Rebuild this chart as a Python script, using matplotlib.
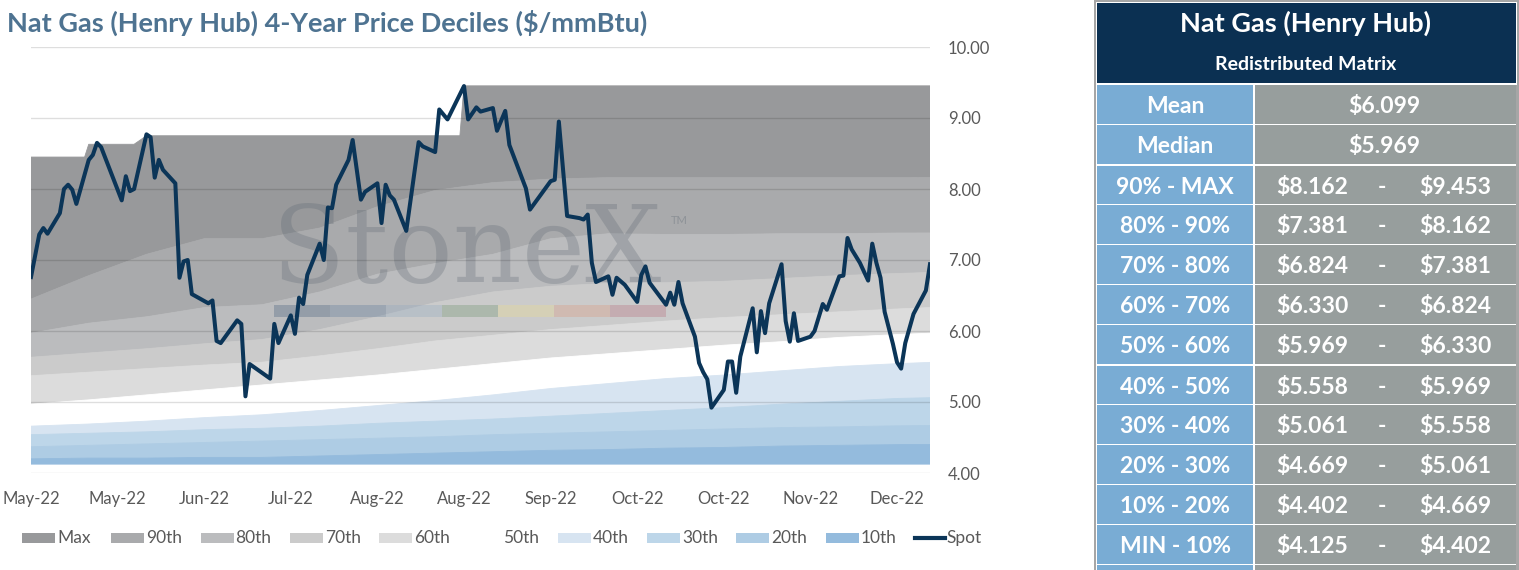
import numpy as np
import matplotlib.pyplot as plt
from matplotlib.patches import Rectangle
from matplotlib.lines import Line2D

plt.rcParams['font.family'] = ['Lato', 'DejaVu Sans']

W, H = 1519, 570

# ---- data (days counted from 10 May 2022) ----
spot_day = [0, 2, 3, 4, 7, 8, 9, 10, 11, 14,
            15, 16, 17, 22, 23, 24, 25, 28, 29, 30,
            31, 32, 35, 36, 37, 38, 39, 43, 44, 45,
            46, 50, 51, 52, 53, 58, 59, 60, 63, 64,
            65, 66, 67, 70, 71, 72, 73, 74, 77, 78,
            80, 81, 84, 85, 86, 87, 88, 91, 92, 94,
            95, 98, 99, 101, 105, 106, 108, 109, 112, 113,
            115, 116, 120, 121, 126, 127, 128, 130, 133, 134,
            135, 136, 137, 140, 141, 142, 144, 147, 148, 149,
            150, 154, 155, 156, 157, 158, 161, 162, 163, 164,
            165, 168, 169, 170, 171, 172, 175, 176, 177, 178,
            179, 182, 183, 184, 185, 186, 189, 190, 192, 193,
            196, 197, 198, 199, 201, 203, 204, 205, 206, 207,
            209, 210, 211, 212, 214, 217, 218]
spot = [6.76, 7.36, 7.45, 7.37, 7.66, 8.00, 8.06, 7.99, 7.79, 8.41,
        8.48, 8.65, 8.59, 7.84, 8.18, 7.97, 8.00, 8.77, 8.73, 8.16,
        8.41, 8.27, 8.08, 6.75, 6.98, 7.00, 6.52, 6.39, 6.43, 5.86,
        5.83, 6.15, 6.10, 5.08, 5.535, 5.33, 6.10, 5.83, 6.22, 5.96,
        6.47, 6.38, 6.79, 7.23, 7.00, 7.74, 7.73, 8.06, 8.41, 8.69,
        7.85, 7.96, 8.08, 7.52, 8.06, 7.91, 7.85, 7.41, 7.83, 8.66,
        8.60, 8.52, 9.12, 8.98, 9.45, 8.98, 9.15, 9.09, 9.14, 8.82,
        9.10, 8.62, 8.01, 7.71, 8.11, 8.13, 8.95, 7.62, 7.59, 7.57,
        7.64, 6.96, 6.69, 6.77, 6.51, 6.75, 6.65, 6.41, 6.79, 6.91,
        6.68, 6.37, 6.54, 6.37, 6.69, 6.39, 5.92, 5.55, 5.42, 5.32,
        4.92, 5.17, 5.57, 5.57, 5.13, 5.64, 6.32, 5.70, 6.28, 5.97,
        6.39, 6.94, 6.14, 5.85, 6.25, 5.86, 5.92, 6.00, 6.38, 6.30,
        6.77, 6.78, 7.31, 7.15, 6.96, 6.71, 7.23, 6.96, 6.75, 6.27,
        5.82, 5.56, 5.47, 5.83, 6.24, 6.57, 6.94]

max_day = [0, 13, 14, 25, 28, 104, 105, 218]
max_val = [8.45, 8.45, 8.63, 8.63, 8.75, 8.75, 9.453, 9.453]

band_day = [0, 14, 28, 42, 56, 70, 84, 98, 112, 126, 140, 154, 168, 182, 196, 210, 218]
p90 = [6.45, 6.78, 7.08, 7.30, 7.30, 7.45, 7.75, 7.98, 8.09, 8.14, 8.16, 8.16, 8.16, 8.16, 8.16, 8.16, 8.162]
p80 = [5.97, 6.11, 6.20, 6.33, 6.37, 6.55, 6.80, 6.95, 7.08, 7.30, 7.37, 7.36, 7.36, 7.37, 7.37, 7.38, 7.381]
p70 = [5.63, 5.69, 5.75, 5.82, 5.88, 6.02, 6.20, 6.40, 6.55, 6.63, 6.67, 6.68, 6.70, 6.74, 6.78, 6.81, 6.824]
p60 = [5.37, 5.42, 5.47, 5.52, 5.56, 5.65, 5.75, 5.86, 5.94, 6.02, 6.08, 6.14, 6.19, 6.23, 6.27, 6.31, 6.330]
p50 = [4.97, 5.03, 5.10, 5.17, 5.24, 5.31, 5.38, 5.46, 5.54, 5.62, 5.68, 5.74, 5.80, 5.85, 5.91, 5.95, 5.969]
p40 = [4.66, 4.69, 4.73, 4.78, 4.82, 4.88, 4.95, 5.02, 5.10, 5.19, 5.26, 5.33, 5.38, 5.44, 5.50, 5.54, 5.558]
p30 = [4.54, 4.56, 4.58, 4.61, 4.63, 4.66, 4.70, 4.73, 4.76, 4.80, 4.84, 4.88, 4.92, 4.97, 5.01, 5.05, 5.061]
p20 = [4.37, 4.39, 4.41, 4.43, 4.45, 4.47, 4.49, 4.51, 4.54, 4.56, 4.58, 4.60, 4.62, 4.64, 4.65, 4.665, 4.669]
p10 = [4.20, 4.21, 4.21, 4.22, 4.22, 4.24, 4.26, 4.28, 4.30, 4.32, 4.33, 4.35, 4.36, 4.38, 4.39, 4.40, 4.402]
p_min = 4.125

tick_days = [0, 21, 42, 63, 84, 105, 126, 147, 168, 189, 210]
tick_labels = ['May-22', 'May-22', 'Jun-22', 'Jul-22', 'Aug-22', 'Aug-22',
               'Sep-22', 'Oct-22', 'Oct-22', 'Nov-22', 'Dec-22']

legend_names = ['Max', '90th', '80th', '70th', '60th', '50th', '40th', '30th', '20th', '10th']
band_colors = ['#98999b', '#a9aaac', '#bbbcbe', '#cbcbcb', '#dcdcdc', '#ffffff',
               '#d7e4f1', '#bdd6e9', '#aecce4', '#94bbdd']

table_labels = ['90% - MAX', '80% - 90%', '70% - 80%', '60% - 70%', '50% - 60%',
                '40% - 50%', '30% - 40%', '20% - 30%', '10% - 20%', 'MIN - 10%']
table_lo = ['$8.162', '$7.381', '$6.824', '$6.330', '$5.969',
            '$5.558', '$5.061', '$4.669', '$4.402', '$4.125']
table_hi = ['$9.453', '$8.162', '$7.381', '$6.824', '$6.330',
            '$5.969', '$5.558', '$5.061', '$4.669', '$4.402']
mean_txt = '$6.099'
median_txt = '$5.969'

spot_color = '#0b3558'
navy = '#0b3052'
blue_cell = '#79acd4'
gray_cell = '#979e9d'


def fx(x):
    return x / W


def fy(y):
    return 1 - y / H


fig = plt.figure(figsize=(W / 100, H / 100), dpi=100)
ax = fig.add_axes([fx(31), fy(473), (930 - 31) / W, (473 - 47) / H])

# ---- decile bands ----
lower_list = [p90, p80, p70, p60, p50, p40, p30, p20, p10, [p_min] * len(band_day)]
upper_list = [None, p90, p80, p70, p60, p50, p40, p30, p20, p10]
for k in range(10):
    lo = np.array(lower_list[k])
    if upper_list[k] is None:
        xs = np.r_[max_day, band_day[::-1]]
        ys = np.r_[max_val, lo[::-1]]
    else:
        xs = np.r_[band_day, band_day[::-1]]
        ys = np.r_[upper_list[k], lo[::-1]]
    ax.fill(xs, ys, facecolor=band_colors[k], edgecolor=band_colors[k], lw=0.6, zorder=1)

# ---- watermark ----
ax.text(fx(272), fy(282), 'StoneX', transform=fig.transFigure, family='DejaVu Serif',
        fontsize=77, color='#5a6570', alpha=0.28, ha='left', va='baseline', zorder=2)
ax.text(fx(671), fy(224), 'TM', transform=fig.transFigure, fontsize=8,
        color='#5a6570', alpha=0.35, ha='left', va='baseline', zorder=2)
strip_colors = ['#2f4f6f', '#4d6f93', '#8aa4bf', '#5f8a5f', '#f0e080', '#e08f6e', '#b45d6e']
for i, c in enumerate(strip_colors):
    ax.add_patch(Rectangle((fx(274 + 56 * i), fy(317)), 56 / W, 12 / H,
                           transform=fig.transFigure, facecolor=c, edgecolor='none',
                           alpha=0.28, zorder=2))

ax.plot(spot_day, spot, color=spot_color, lw=2.9, solid_joinstyle='round', zorder=3)

ax.set_xlim(0, 218)
ax.set_ylim(4, 10)
ax.set_yticks(np.arange(4, 10.5, 1.0))
ax.set_yticklabels(['%.2f' % v for v in np.arange(4, 10.5, 1.0)])
ax.yaxis.tick_right()
ax.set_xticks(tick_days)
ax.set_xticklabels(tick_labels)
ax.tick_params(axis='y', length=0, pad=13, labelsize=12, labelcolor='#595959')
ax.tick_params(axis='x', length=0, pad=13, labelsize=12, labelcolor='#595959')
ax.set_axisbelow(False)
ax.yaxis.grid(True, color='black', alpha=0.13, lw=1.0)
for s in ax.spines.values():
    s.set_visible(False)
ax.patch.set_alpha(0)

# ---- overlay in pixel coordinates ----
ov = fig.add_axes([0, 0, 1, 1], zorder=5)
ov.set_xlim(0, W)
ov.set_ylim(H, 0)
ov.axis('off')
ov.patch.set_alpha(0)

ov.text(7, 23, 'Nat Gas (Henry Hub) 4-Year Price Deciles ($/mmBtu)', fontsize=19.5,
        fontweight='bold', color='#4e7391', ha='left', va='center')

# legend
for k, name in enumerate(legend_names):
    x0 = 22 + 89.3 * k
    if name != '50th':
        ov.add_patch(Rectangle((x0, 533), 33, 10, facecolor=band_colors[k], edgecolor='none'))
    ov.text(x0 + 35, 538, name, fontsize=12.5, color='#595959', ha='left', va='center')
x0 = 22 + 89.3 * 10
ov.add_line(Line2D([x0, x0 + 30], [538, 538], color=spot_color, lw=3))
ov.text(x0 + 31, 538, 'Spot', fontsize=12.5, color='#595959', ha='left', va='center')

# ---- table ----
ov.add_patch(Rectangle((1094, 0), 425, 570, facecolor='#a6a6a6', edgecolor='none'))
ov.add_patch(Rectangle((1096, 2), 421, 568, facecolor='white', edgecolor='none'))
ov.add_patch(Rectangle((1097, 3), 419, 80, facecolor=navy, edgecolor='none'))
ov.text(1306, 23, 'Nat Gas (Henry Hub)', fontsize=19.5, fontweight='bold', color='white',
        ha='center', va='center')
ov.text(1306, 64, 'Redistributed Matrix', fontsize=14, fontweight='bold', color='white',
        ha='center', va='center')

row_tops = [85, 125, 166, 205, 245, 285, 325, 366, 405, 445, 485, 525, 565]
row_bots = [124, 164, 204, 244, 284, 324, 364, 404, 444, 484, 524, 564, 572]
for r in range(len(row_tops)):
    t, b = row_tops[r], row_bots[r]
    ov.add_patch(Rectangle((1097, t), 156, b - t, facecolor=blue_cell, edgecolor='none'))
    ov.add_patch(Rectangle((1254.5, t), 262, b - t, facecolor=gray_cell, edgecolor='none'))
ov.add_patch(Rectangle((1516, 85), 3, 485, facecolor='#a6a6a6', edgecolor='none'))

txt = dict(fontsize=16.5, fontweight='bold', color='white', va='center')
ov.text(1175, 106.5, 'Mean', ha='center', **txt)
ov.text(1384, 106.5, mean_txt, ha='center', **txt)
ov.text(1175, 146.5, 'Median', ha='center', **txt)
ov.text(1384, 146.5, median_txt, ha='center', **txt)
for i in range(len(table_labels)):
    yc = (row_tops[i + 2] + row_bots[i + 2]) / 2 + 2
    ov.text(1175, yc, table_labels[i], ha='center', **txt)
    ov.text(1312, yc, table_lo[i], ha='center', **txt)
    ov.text(1382, yc, '-', ha='center', **txt)
    ov.text(1455, yc, table_hi[i], ha='center', **txt)

fig.savefig('out.png', dpi=100)
